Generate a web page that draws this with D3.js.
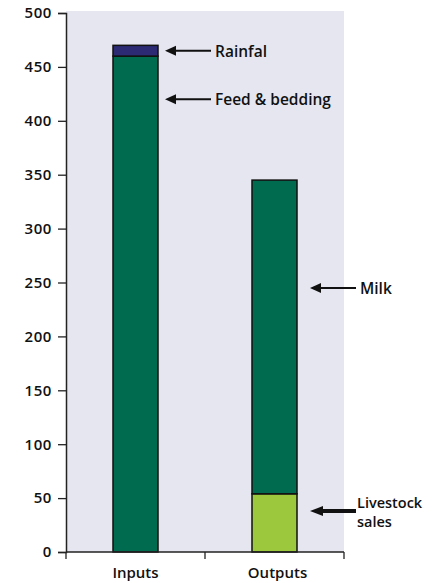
<!DOCTYPE html>
<html>
<head>
<meta charset="utf-8">
<script src="https://cdn.jsdelivr.net/npm/d3@7/dist/d3.min.js"></script>
<style>
  html, body { margin: 0; padding: 0; background: #fff; }
  svg text { font-family: "Open Sans", "DejaVu Sans", sans-serif; font-weight: 600; fill: #111; }
</style>
</head>
<body>
<svg id="chart" width="441" height="583"></svg>
<script>
// Nutrient balance: stacked inputs vs outputs
const categories = ["Inputs", "Outputs"];
const seriesNames = ["Base", "Top"];
const baseValues = [460, 54];   // Feed & bedding, Livestock sales
const topValues = [10, 291];    // Rainfal, Milk
const baseColors = ["#006b4f", "#9bc83c"];
const topColors = ["#2b2a73", "#006b4f"];
const yTicks = [0, 50, 100, 150, 200, 250, 300, 350, 400, 450, 500];

// Annotation labels: category, value the arrow points at, text lines, arrow weight
const noteCategories = ["Inputs", "Inputs", "Outputs", "Outputs"];
const noteValues = [465, 420, 245, 38];
const noteTexts = [["Rainfal"], ["Feed & bedding"], ["Milk"], ["Livestock", "sales"]];
const noteWeights = [2, 2, 2, 4];

const svg = d3.select("#chart");
const plotLeft = 66, plotRight = 344, plotTop = 13, plotBottom = 552;

const x = d3.scaleBand().domain(categories).range([plotLeft, plotRight]).padding(0);
const y = d3.scaleLinear().domain([0, 500]).range([plotBottom, plotTop]);
const barW = 45;

// plot background
svg.append("rect")
  .attr("x", plotLeft).attr("y", plotTop - 2)
  .attr("width", plotRight - plotLeft).attr("height", plotBottom - plotTop + 2)
  .attr("fill", "#e6e6f0");

// stacked bars
const rows = categories.map((c, i) => ({ cat: c, Base: baseValues[i], Top: topValues[i] }));
const stacked = d3.stack().keys(seriesNames)(rows);
const colorsFor = { Base: baseColors, Top: topColors };
stacked.forEach(layer => {
  svg.append("g").selectAll("rect")
    .data(layer)
    .join("rect")
    .attr("x", d => x(d.data.cat) + x.bandwidth() / 2 - barW / 2)
    .attr("width", barW)
    .attr("y", d => y(d[1]))
    .attr("height", d => y(d[0]) - y(d[1]))
    .attr("fill", (d, i) => colorsFor[layer.key][i])
    .attr("stroke", "#111")
    .attr("stroke-width", 1.5);
});

// y axis
const yAxis = svg.append("g")
  .attr("transform", `translate(${plotLeft},0)`)
  .call(d3.axisLeft(y).tickValues(yTicks).tickSize(8).tickPadding(6));
yAxis.select(".domain").attr("stroke", "#222").attr("stroke-width", 1.5);
yAxis.selectAll(".tick line").attr("stroke", "#222").attr("stroke-width", 1.3);
yAxis.selectAll("text")
  .style("font-size", "15px")
  .style("letter-spacing", "0.6px")
  .attr("fill", "#111");

// x axis with ticks on category boundaries
const xg = svg.append("g").attr("transform", `translate(0,${plotBottom})`);
xg.append("line").attr("x1", plotLeft).attr("x2", plotRight).attr("stroke", "#222").attr("stroke-width", 1.5);
const edges = [plotLeft].concat(categories.map(c => x(c) + x.bandwidth()));
xg.selectAll(".edge").data(edges).join("line")
  .attr("x1", d => d).attr("x2", d => d)
  .attr("y1", 0).attr("y2", 7)
  .attr("stroke", "#222").attr("stroke-width", 1.3);
xg.selectAll(".lab").data(categories).join("text")
  .attr("x", d => x(d) + x.bandwidth() / 2 + (d === "Outputs" ? 3 : 0))
  .attr("y", 26)
  .attr("text-anchor", "middle")
  .style("font-size", "15px")
  .text(d => d);

// annotations: arrow pointing at the bar plus its label
noteCategories.forEach((c, i) => {
  const gap = c === "Outputs" ? 13 : 7;
  const xStart = x(c) + x.bandwidth() / 2 + barW / 2 + gap;
  const xEnd = xStart + 46;
  const yy = y(noteValues[i]);
  const headLen = noteWeights[i] > 3 ? 13 : 11;
  svg.append("line")
    .attr("x1", xStart + headLen - 1).attr("x2", xEnd)
    .attr("y1", yy).attr("y2", yy)
    .attr("stroke", "#111").attr("stroke-width", noteWeights[i]);
  svg.append("path")
    .attr("d", `M${xStart},${yy} L${xStart + headLen},${yy - 5} L${xStart + headLen},${yy + 5} Z`)
    .attr("fill", "#111");
  const lines = noteTexts[i];
  const tx = xEnd + (lines.length > 1 ? 1 : 4);
  const lineGap = 19;
  lines.forEach((s, k) => {
    svg.append("text")
      .attr("x", tx)
      .attr("y", yy + 6 - (lines.length - 1) * lineGap / 2 + k * lineGap)
      .style("font-size", lines.length > 1 ? "14.5px" : "15.5px")
      .text(s);
  });
});
</script>
</body>
</html>
